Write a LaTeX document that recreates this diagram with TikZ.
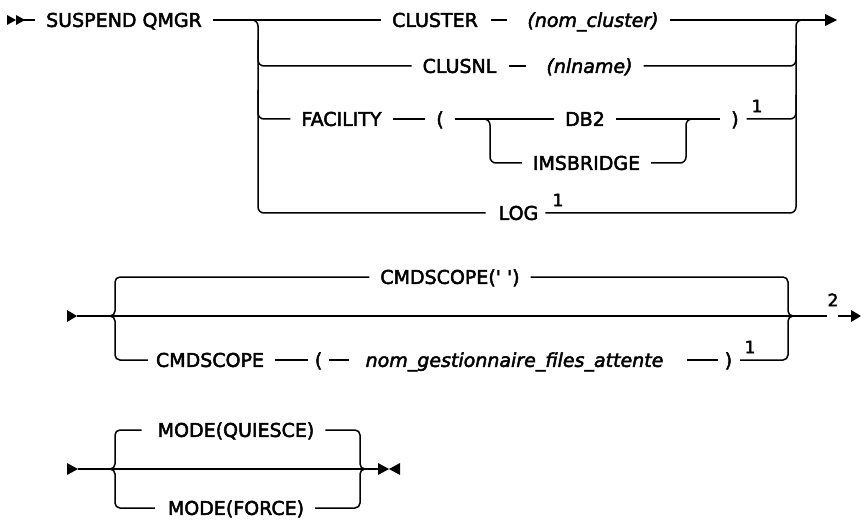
\documentclass[tikz,border=0pt]{standalone}
\usepackage{fontspec}
\setmainfont{DejaVu Sans}[FakeBold=2.5]
\usetikzlibrary{calc}
\begin{document}
\begin{tikzpicture}[x=1pt,y=-1pt, line width=1.5pt,
  rc/.style={rounded corners=6pt},
  br/.style={rounded corners=5pt},
  kw/.style={font=\fontsize{19}{23}\selectfont, inner sep=0pt, outer xsep=11pt, outer ysep=0pt, text height=13.8pt, text depth=0pt, anchor=center},
  var/.style={kw, font=\fontsize{19}{23}\selectfont\itshape},
  sup/.style={font=\fontsize{17}{20}\selectfont, inner sep=0pt, outer sep=0pt, text height=12.4pt, text depth=0pt, anchor=center},
  tip/.style={fill=black, draw=none}]
\useasboundingbox (0,0) rectangle (861,521);

% ---------------- Section 1 ----------------
\fill[tip] (7,15) -- (16,20) -- (7,25) -- cycle;
\fill[tip] (16,15) -- (25,20) -- (16,25) -- cycle;
\coordinate (s1) at (16,20);
\node[kw] (sq) at (124,20) {SUSPEND QMGR};
\node[kw] (cl) at (435,20) {CLUSTER};
\node[var] (nc) at (593,20) {(nom\_cluster)};
\node[kw] (cn) at (459.5,66) {CLUSNL};
\node[var] (nl) at (589.5,66) {(nlname)};
\node[kw] (fa) at (341.5,119) {FACILITY};
\node[kw] (lp) at (440,119) {(};
\node[kw] (db) at (585,119) {DB2};
\node[kw] (rp) at (735,119) {)};
\node[sup] (n1) at (757,106) {1};
\node[kw] (im) at (586.5,163) {IMSBRIDGE};
\node[kw] (lg) at (518.5,213) {LOG};
\node[sup] (n2) at (558,200) {1};

\coordinate (e1) at (825,20);
\fill[tip] (825,14) -- (837,20) -- (825,26) -- cycle;

\draw (s1) -- (sq.west);
\draw (sq.east) -- (cl.west);
\draw ([xshift=2pt]cl.east) -- ([xshift=-9pt]nc.west);
\draw (nc.east) -- (e1);
\draw ([xshift=2pt]cn.east) -- ([xshift=-9pt]nl.west);
\draw (fa.east) -- (lp.west);
\draw (lp.east) -- (db.west);
\draw (db.east) -- (rp.west);

% left branch
\coordinate (j1) at (240,20);
\coordinate (v1) at (258,213);
\draw[rc] (j1) -| (v1) -- ([xshift=-2pt]lg.west);
\draw[rc] (258,40) |- (cn.west);
\draw[rc] (258,90) |- (fa.west);
% right branch
\coordinate (r1) at (796,20);
\draw[rc] ([xshift=-4pt]lg.east) -| (r1) -- (812,20);
\draw[rc] (nl.east) -| (796,45);
\draw[rc] ([xshift=-3pt]rp.east) -| (796,95);
% inner branch
\draw[rc] (475,119) -| (490,163) -- (im.west);
\draw[rc] (im.east) -| (686,119) -- (700,119);

% ---------------- Section 2 ----------------
\fill[tip] (67,310) -- (77,316) -- (67,322) -- cycle;
\coordinate (a2) at (77,316);
\coordinate (g2a) at (827,316);
\coordinate (g2b) at (838,316);
\coordinate (e2) at (851,316);
\node[kw] (c0) at (450,277) {CMDSCOPE(\textquotesingle{} \textquotesingle)};
\node[kw] (c1) at (210,360) {CMDSCOPE};
\node[kw] (lp2) at (318.5,360) {(};
\node[var] (ng) at (514.5,360) {nom\_gestionnaire\_files\_attente};
\node[kw] (rp2) at (728.5,360) {)};
\node[sup] (n3) at (750,347) {1};
\node[sup] (n4) at (833,300) {2};

\draw (a2) -- (g2a);
\draw (g2b) -- (e2);
\fill[tip] (851,310) -- (861,316) -- (851,322) -- cycle;
\draw[br] (100,316) -| (115,277) -- (c0.west);
\draw[br] (100,316) -| (115,360) -- ([xshift=3pt]c1.west);
\draw[br] (c0.east) -| (788,316) -- (805,316);
\draw[br] ([xshift=-3pt]rp2.east) -| (788,316) -- (805,316);
\draw (c1.east) -- ([xshift=4pt]lp2.west);
\draw ([xshift=-4pt]lp2.east) -- ([xshift=-6pt]ng.west);
\draw ([xshift=13pt]ng.east) -- ([xshift=4pt]rp2.west);

% ---------------- Section 3 ----------------
\fill[tip] (67,463) -- (78,469) -- (67,475) -- cycle;
\coordinate (a3) at (78,469);
\coordinate (e3) at (378,469);
\node[kw] (mq) at (236,430) {MODE(QUIESCE)};
\node[kw] (mf) at (236,508) {MODE(FORCE)};
\draw (a3) -- (e3);
\draw[br] (100,469) -| (115,430) -- ([xshift=-5pt]mq.west);
\draw[br] (100,469) -| (115,508) -- ([xshift=-2pt]mf.west);
\draw[br] (mq.east) -| (360,469) -- (372,469);
\draw[br] (mf.east) -| (360,469) -- (372,469);
\fill[tip] (378,463) -- (389,469) -- (378,475) -- cycle;
\fill[tip] (400,463) -- (389,469) -- (400,475) -- cycle;
\end{tikzpicture}
\end{document}
